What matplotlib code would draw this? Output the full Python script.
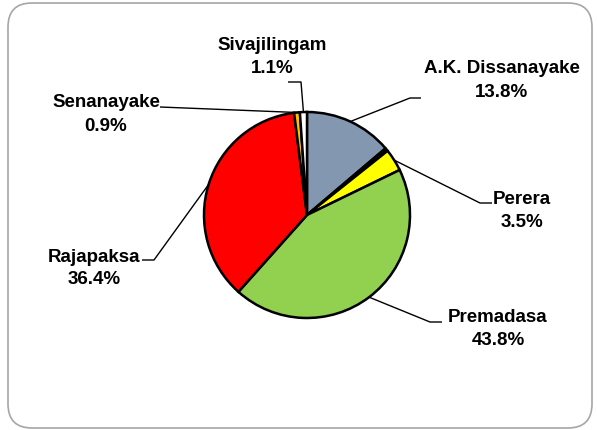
import matplotlib.pyplot as plt
import numpy as np
from matplotlib.patches import FancyBboxPatch

# Доли голосов (по часовой стрелке от 12 часов)
candidates = ['A.K. Dissanayake', 'Others', 'Perera', 'Premadasa',
              'Rajapaksa', 'Senanayake', 'Sivajilingam']
shares = [13.8, 0.5, 3.5, 43.8, 36.4, 0.9, 1.1]
colors = ['#8497B0', '#000000', '#FFFF00', '#92D050',
          '#FF0000', '#FFC000', '#FFFFFF']

W, H = 597, 430
fig = plt.figure(figsize=(W / 100, H / 100), dpi=100)
ax = fig.add_axes([0, 0, 1, 1])

# рамка диаграммы
frame = FancyBboxPatch((8, 2), 584, 425, boxstyle='round,pad=0,rounding_size=24',
                       facecolor='white', edgecolor='#A6A6A6', linewidth=1.2)
ax.add_patch(frame)

cx, cy, r = 307, H - 215, 103
wedges, _ = ax.pie(shares, colors=colors, startangle=90, counterclock=False,
                   center=(cx, cy), radius=r, frame=True,
                   wedgeprops=dict(edgecolor='black', linewidth=1.8))

# подписи: x центра, базовые линии двух строк, точки выноски (пиксели картинки)
labels = {
    'A.K. Dissanayake': dict(x=502, base=(73, 97), path=[(410, 98), (421, 98)]),
    'Perera': dict(x=522, base=(204, 227), path=[(480, 203), (492, 203)]),
    'Premadasa': dict(x=498, base=(322, 345), path=[(430, 322), (442, 322)]),
    'Rajapaksa': dict(x=94, base=(262, 284), path=[(154, 260), (142, 260)]),
    'Senanayake': dict(x=106, base=(107, 131), path=[(160, 107)]),
    'Sivajilingam': dict(x=272, base=(50, 73), path=[(301, 82), (288, 82)]),
}

font = dict(fontsize=13.5, fontweight='bold', ha='center', va='baseline',
            family=['Liberation Sans', 'DejaVu Sans'])

for w, name, val in zip(wedges, candidates, shares):
    if name not in labels:
        continue
    lab = labels[name]
    mid = np.deg2rad((w.theta1 + w.theta2) / 2)
    x0 = cx + r * np.cos(mid)
    y0 = cy + r * np.sin(mid)
    pts = [(x0, y0)] + [(px, H - py) for px, py in lab['path']]
    xs, ys = zip(*pts)
    ax.plot(xs, ys, color='black', linewidth=1.0, solid_capstyle='butt')
    ax.text(lab['x'], H - lab['base'][0], name, **font)
    ax.text(lab['x'], H - lab['base'][1], f'{val:.1f}%', **font)

ax.set_xlim(0, W)
ax.set_ylim(0, H)
ax.set_aspect('equal')
ax.axis('off')

fig.savefig('out.png', dpi=100, facecolor='white')
